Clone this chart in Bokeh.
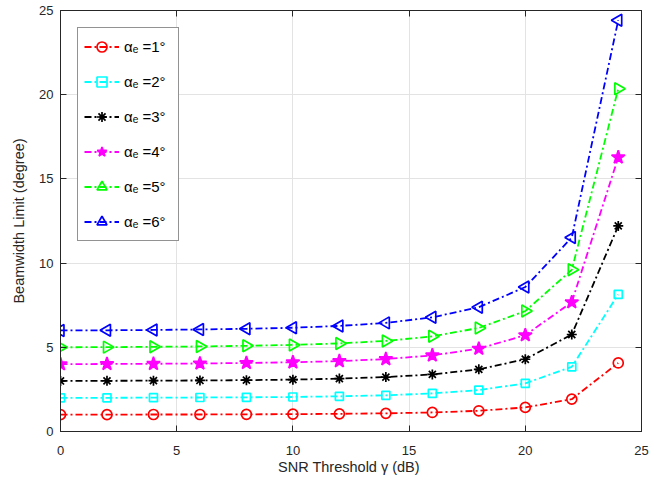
import math
from bokeh.plotting import figure
from bokeh.models import Range1d, LinearAxis, SingleIntervalTicker, Legend, LegendItem
from bokeh.embed import file_html
from bokeh.resources import INLINE

# ---- data ----
snr_db = [0, 2, 4, 6, 8, 10, 12, 14, 16, 18, 20, 22, 24]
alpha1 = [1.00, 1.00, 1.01, 1.01, 1.02, 1.03, 1.05, 1.08, 1.13, 1.23, 1.43, 1.92, 4.07]
alpha2 = [2.00, 2.00, 2.01, 2.02, 2.03, 2.05, 2.09, 2.15, 2.26, 2.46, 2.86, 3.84, 8.14]
alpha3 = [3.00, 3.01, 3.02, 3.03, 3.05, 3.08, 3.14, 3.23, 3.39, 3.69, 4.29, 5.76, 12.21]
alpha4 = [4.00, 4.01, 4.02, 4.04, 4.07, 4.11, 4.18, 4.30, 4.52, 4.92, 5.72, 7.68, 16.28]
alpha5 = [5.00, 5.01, 5.03, 5.05, 5.09, 5.14, 5.23, 5.38, 5.65, 6.15, 7.15, 9.60, 20.35]
alpha6 = [6.00, 6.01, 6.03, 6.06, 6.10, 6.16, 6.27, 6.45, 6.78, 7.38, 8.58, 11.52, 24.42]
series_labels = ["\u03b1\u2091 =1\u00b0", "\u03b1\u2091 =2\u00b0", "\u03b1\u2091 =3\u00b0",
                 "\u03b1\u2091 =4\u00b0", "\u03b1\u2091 =5\u00b0", "\u03b1\u2091 =6\u00b0"]
series_values = [alpha1, alpha2, alpha3, alpha4, alpha5, alpha6]

# ---- styles ----
colors = ["#ff0000", "#00ffff", "#000000", "#ff00ff", "#00ff00", "#0000ff"]
markers = ["circle", "square", "asterisk", "star", "triangle", "triangle"]
sizes = [10, 8, 10, 14, 12, 12]
angles = [0, 0, 0, 0, -math.pi / 2, math.pi / 2]
filled = [False, False, False, True, False, False]

FONT = "Liberation Sans"
AX = "#262626"

p = figure(width=667, height=485, output_backend="svg", toolbar_location=None,
           x_range=Range1d(0, 25), y_range=Range1d(0, 25),
           min_border_left=60, min_border_right=26, min_border_top=10, min_border_bottom=54,
           x_axis_label="SNR Threshold  \u03b3 (dB)", y_axis_label="Beamwidth Limit (degree)")
p.outline_line_color = AX
p.background_fill_color = "white"

ticker = SingleIntervalTicker(interval=5, num_minor_ticks=0)
for ax in (p.xaxis[0], p.yaxis[0]):
    ax.ticker = ticker
    ax.major_tick_in = 6
    ax.major_tick_out = 0
    ax.minor_tick_in = 0
    ax.minor_tick_out = 0
    ax.axis_line_color = AX
    ax.major_tick_line_color = AX
    ax.major_label_text_font = FONT
    ax.major_label_text_font_size = "13px"
    ax.major_label_text_color = AX
    ax.axis_label_text_font = FONT
    ax.axis_label_text_font_size = "14.5px"
    ax.axis_label_text_font_style = "normal"
    ax.axis_label_text_color = AX
p.xaxis[0].major_label_standoff = 14
p.xaxis[0].axis_label_standoff = 1
p.yaxis[0].major_label_standoff = 7
p.yaxis[0].axis_label_standoff = 9

for loc in ("above", "right"):
    a = LinearAxis(ticker=ticker, major_tick_in=6, major_tick_out=0, minor_tick_in=0,
                   minor_tick_out=0, major_label_text_font_size="1px",
                   major_label_text_color=None, major_label_standoff=0,
                   axis_line_color=AX, major_tick_line_color=AX)
    p.add_layout(a, loc)

p.xgrid.ticker = ticker
p.ygrid.ticker = ticker
p.grid.grid_line_color = "#e3e3e3"
p.grid.grid_line_width = 1

items = []
for lab, vals, c, m, s, ang, f in zip(series_labels, series_values, colors, markers, sizes, angles, filled):
    lr = p.line(snr_db, vals, line_color=c, line_width=1.8, line_dash="7 3 2 3")
    sr = p.scatter(snr_db, vals, marker=m, size=s, angle=ang, line_color=c,
                   fill_color=c if f else None, line_width=1.7)
    items.append(LegendItem(label=lab, renderers=[lr, sr]))

legend = Legend(items=items, location="top_left", margin=17, padding=6, spacing=10,
                glyph_width=35, glyph_height=25, label_height=25, label_width=48,
                label_standoff=5, label_text_font=FONT, label_text_font_size="15px",
                label_text_color="#000000", border_line_color=AX, border_line_width=1,
                background_fill_color="white", background_fill_alpha=1)
p.add_layout(legend)

open("out.html", "w").write(file_html(p, INLINE))
